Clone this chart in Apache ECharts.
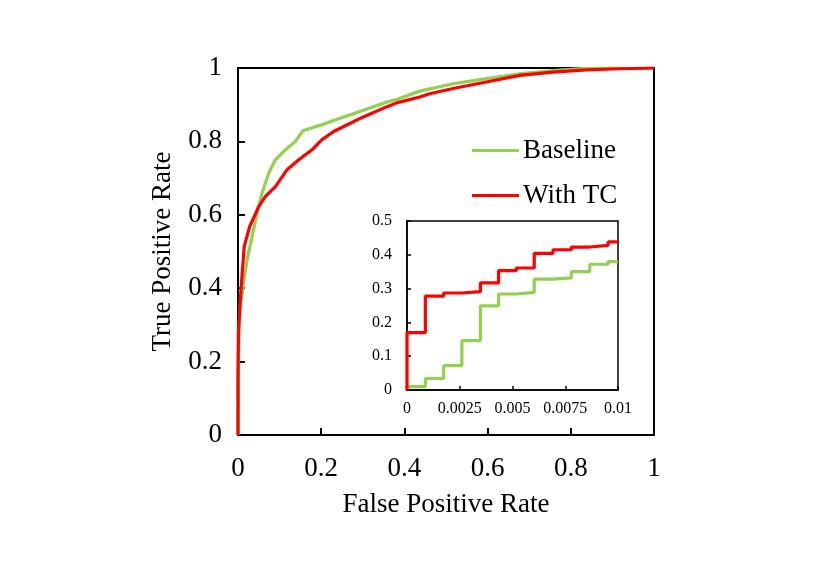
<!DOCTYPE html>
<html>
<head>
<meta charset="utf-8">
<title>ROC</title>
<script src="https://cdn.jsdelivr.net/npm/echarts@6/dist/echarts.min.js"></script>
<style>
  html, body { margin: 0; padding: 0; background: #fff; }
  #chart { width: 814px; height: 575px; }
</style>
</head>
<body>
<div id="chart"></div>
<script>
// 主图 ROC 曲线 [FPR, TPR]
var baselineRoc = [
	[0, 0], [0.001, 0.2], [0.003, 0.3], [0.006, 0.36], [0.01, 0.38], [0.012, 0.405],
	[0.022, 0.478], [0.034, 0.541], [0.046, 0.605], [0.058, 0.66], [0.074, 0.714],
	[0.09, 0.75], [0.114, 0.777], [0.138, 0.8], [0.156, 0.829], [0.2, 0.845],
	[0.23, 0.857], [0.276, 0.875], [0.3, 0.884], [0.357, 0.907], [0.381, 0.914],
	[0.437, 0.937], [0.461, 0.943], [0.517, 0.957], [0.597, 0.971], [0.677, 0.984],
	[0.757, 0.993], [0.837, 0.999], [0.9, 1.0], [0.95, 0.998], [1, 1]
];
var tcRoc = [
	[0, 0], [0, 0.17], [0.001, 0.28], [0.005, 0.36], [0.01, 0.44], [0.015, 0.514],
	[0.028, 0.568], [0.05, 0.623], [0.066, 0.65], [0.09, 0.677], [0.118, 0.723],
	[0.146, 0.75], [0.178, 0.777], [0.202, 0.805], [0.23, 0.827], [0.276, 0.853],
	[0.3, 0.866], [0.357, 0.894], [0.381, 0.905], [0.437, 0.921], [0.461, 0.93],
	[0.517, 0.944], [0.597, 0.962], [0.677, 0.98], [0.757, 0.989], [0.837, 0.995],
	[0.917, 0.998], [1, 1]
];

// 放大图 (FPR 0 ~ 0.01) 阶梯数据
var baselineZoom = [
	[0, 0], [0, 0.01], [0.00087, 0.034], [0.00174, 0.072], [0.0026, 0.146],
	[0.00348, 0.249], [0.00434, 0.284], [0.00518, 0.289], [0.00603, 0.328],
	[0.00692, 0.332], [0.00779, 0.35], [0.00866, 0.372], [0.00953, 0.38], [0.01, 0.38]
];
var tcZoom = [
	[0, 0], [0, 0.17], [0.00087, 0.278], [0.00174, 0.287], [0.0026, 0.291],
	[0.00348, 0.317], [0.00434, 0.353], [0.00518, 0.361], [0.00603, 0.404],
	[0.00692, 0.415], [0.00779, 0.423], [0.00866, 0.428], [0.00953, 0.438], [0.01, 0.438]
];

var mainTicks = [0, 0.2, 0.4, 0.6, 0.8, 1];
var zoomXTicks = ['0', '0.0025', '0.005', '0.0075', '0.01'];
var zoomYTicks = ['0', '0.1', '0.2', '0.3', '0.4', '0.5'];

var seriesNames = ['Baseline', 'With TC'];
var GREEN = '#92D050';
var RED = '#FF0000';
var FONT = "'Liberation Serif', 'Times New Roman', serif";

var chart = echarts.init(document.getElementById('chart'));

function axisBase(lineWidth, tickLen, fontSize, margin) {
	return {
		type: 'value',
		axisLine: { show: true, onZero: false, lineStyle: { color: '#000', width: lineWidth } },
		axisTick: { show: true, inside: true, length: tickLen, lineStyle: { color: '#000', width: lineWidth } },
		splitLine: { show: false },
		axisLabel: { color: '#000', fontFamily: FONT, fontSize: fontSize, margin: margin }
	};
}

var xMain = axisBase(2, 7, 27, 20);
xMain.gridIndex = 0;
xMain.min = 0; xMain.max = 1; xMain.interval = 0.2;
xMain.name = 'False Positive Rate';
xMain.nameLocation = 'middle';
xMain.nameGap = 56;
xMain.nameTextStyle = { color: '#000', fontFamily: FONT, fontSize: 27 };
xMain.axisLabel.formatter = function(v) { return String(mainTicks[Math.round(v / 0.2)]); };

var yMain = axisBase(2, 7, 27, 16);
yMain.gridIndex = 0;
yMain.min = 0; yMain.max = 1; yMain.interval = 0.2;
yMain.name = 'True Positive Rate';
yMain.nameLocation = 'middle';
yMain.nameGap = 62;
yMain.nameTextStyle = { color: '#000', fontFamily: FONT, fontSize: 27 };
yMain.axisLabel.formatter = function(v) { return String(mainTicks[Math.round(v / 0.2)]); };

var xZoom = axisBase(1.5, 4, 16, 11);
xZoom.gridIndex = 1;
xZoom.min = 0; xZoom.max = 0.01; xZoom.interval = 0.0025;
xZoom.axisLabel.formatter = function(v) { return zoomXTicks[Math.round(v / 0.0025)]; };

var yZoom = axisBase(1.5, 4, 16, 15);
yZoom.gridIndex = 1;
yZoom.min = 0; yZoom.max = 0.5; yZoom.interval = 0.1;
yZoom.axisLabel.formatter = function(v) { return zoomYTicks[Math.round(v / 0.1)]; };

function lineSeries(name, color, data, axisIdx, step) {
	var s = {
		name: name,
		type: 'line',
		xAxisIndex: axisIdx,
		yAxisIndex: axisIdx,
		data: data,
		showSymbol: false,
		symbol: 'none',
		silent: true,
		animation: false,
		lineStyle: { color: color, width: 3.2 },
		itemStyle: { color: color }
	};
	if (step) s.step = step;
	return s;
}

chart.setOption({
	backgroundColor: '#fff',
	animation: false,
	grid: [
		{ left: 238, top: 68, width: 416, height: 367, show: true, borderColor: '#000', borderWidth: 2, backgroundColor: 'transparent' },
		{ left: 407, top: 221, width: 211, height: 169, show: true, borderColor: '#000', borderWidth: 1.5, backgroundColor: '#fff' }
	],
	xAxis: [xMain, xZoom],
	yAxis: [yMain, yZoom],
	legend: {
		data: seriesNames,
		orient: 'vertical',
		left: 467,
		top: 132,
		itemWidth: 47,
		itemHeight: 3,
		itemGap: 18,
		icon: 'rect',
		textStyle: { color: '#000', fontFamily: FONT, fontSize: 27, lineHeight: 27, padding: [0, 0, 0, -1] }
	},
	series: [
		lineSeries(seriesNames[0], GREEN, baselineRoc, 0),
		lineSeries(seriesNames[1], RED, tcRoc, 0),
		lineSeries(seriesNames[0], GREEN, baselineZoom, 1, 'end'),
		lineSeries(seriesNames[1], RED, tcZoom, 1, 'end')
	]
});
</script>
</body>
</html>
